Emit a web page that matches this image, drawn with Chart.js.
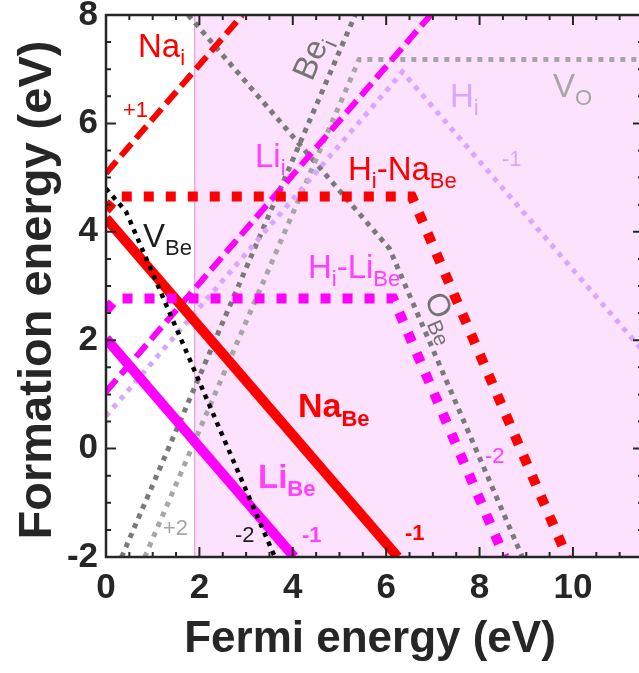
<!DOCTYPE html>
<html>
<head>
<meta charset="utf-8">
<script src="https://cdn.jsdelivr.net/npm/chart.js@4/dist/chart.umd.min.js"></script>
<style>
  html, body { margin: 0; padding: 0; background: #fff; overflow: hidden; }
  #wrap { width: 650px; height: 673px; }
</style>
</head>
<body>
<div id="wrap"><canvas id="c" width="650" height="673"></canvas></div>
<script>
// Axis window (eV)
const xMin = 0, xMax = 11.5, yMin = -2, yMax = 8;
// onset of the shaded region
const gapStart = 1.9;

const xTickLabels = ['0', '2', '4', '6', '8', '10'];
const yTickLabels = ['-2', '0', '2', '4', '6', '8'];

// Formation energy vs Fermi level: breakpoints of each defect line (eV)
const naIX   = [0, 2.92];                 const naIY   = [5.08, 8];
const liIX   = [0, 6.95];                 const liIY   = [1.05, 8];
const hIX    = [0, 6.35, 11.5];           const hIY    = [0.6, 6.95, 1.8];
const vOX    = [0.83, 5.42, 11.5];        const vOY    = [-2, 7.18, 7.18];
const beIX   = [0.335, 5.335];            const beIY   = [-2, 8];
const oBeX   = [1.76, 6.07, 8.915];       const oBeY   = [8, 3.69, -2];
const vBeX   = [0, 0.43, 3.615];          const vBeY   = [4.8, 4.37, -2];
const naBeX  = [0, 6.25];                 const naBeY  = [4.25, -2];
const liBeX  = [0, 4.03];                 const liBeY  = [2.03, -2];
const hNaBeX = [0, 0.25, 6.55, 9.875];    const hNaBeY = [4.4, 4.65, 4.65, -2];
const hLiBeX = [0, 0.22, 6.15, 8.535];    const hLiBeY = [2.55, 2.77, 2.77, -2];

const RED = '#ff0000', MAG = '#ff00ff', LAV = '#d9a6ff',
      GRAY = '#7a7a7a', LGRAY = '#a6a6a6', BLACK = '#000000';

function pts(xs, ys) { return xs.map((v, i) => ({ x: v, y: ys[i] })); }
function series(xs, ys, color, width, dash) {
  return {
    data: pts(xs, ys), showLine: true, borderColor: color, borderWidth: width,
    borderDash: dash || [], borderCapStyle: 'butt', borderJoinStyle: 'miter',
    pointRadius: 0, fill: false, tension: 0, clip: 0
  };
}

// first entry is drawn on top
const datasets = [
  series(vBeX, vBeY, BLACK, 4.5, [4.5, 5.5]),
  series(hNaBeX, hNaBeY, RED, 10, [10, 12]),
  series(hLiBeX, hLiBeY, MAG, 10, [10, 12]),
  series(naBeX, naBeY, RED, 10),
  series(liBeX, liBeY, MAG, 10),
  series(naIX, naIY, RED, 6, [16, 7]),
  series(liIX, liIY, MAG, 6, [16, 7]),
  series(hIX, hIY, LAV, 5, [5, 6]),
  series(vOX, vOY, LGRAY, 5, [5, 6]),
  series(beIX, beIY, GRAY, 5, [5, 5.5]),
  series(oBeX, oBeY, GRAY, 5, [5, 5.5])
];

const FONT = '"Liberation Sans", Arial, Helvetica, sans-serif';

// shaded region to the right of gapStart
const bandPlugin = {
  id: 'band',
  beforeDatasetsDraw(chart) {
    const { ctx, chartArea: a, scales: { x } } = chart;
    const x0 = x.getPixelForValue(gapStart);
    ctx.save();
    ctx.fillStyle = '#fde2fd';
    ctx.fillRect(x0, a.top, a.right - x0, a.bottom - a.top);
    ctx.strokeStyle = '#df8fdf';
    ctx.lineWidth = 1;
    ctx.beginPath();
    ctx.moveTo(x0, a.top); ctx.lineTo(x0, a.bottom);
    ctx.stroke();
    ctx.restore();
  }
};

// text pieces: [text, isSubscript]
const annotations = [
  { x: 0.685, y: 7.225, parts: [['Na', 0], ['i', 1]], color: RED, size: 33 },
  { x: 0.364, y: 6.118, parts: [['+1', 0]], color: RED, size: 22 },
  { x: 4.41,  y: 6.76,  parts: [['Be', 0], ['i', 1]], color: '#747474', rot: -66.7, size: 33 },
  { x: 9.572, y: 6.487, parts: [['V', 0], ['O', 1]], color: LGRAY, size: 33 },
  { x: 7.366, y: 6.303, parts: [['H', 0], ['i', 1]], color: LAV, size: 33 },
  { x: 8.48,  y: 5.207, parts: [['-1', 0]], color: LAV, size: 22 },
  { x: 3.191, y: 5.196, parts: [['Li', 0], ['i', 1]], color: '#ff40ff', size: 33 },
  { x: 5.182, y: 4.956, parts: [['H', 0], ['i', 1], ['-Na', 0], ['Be', 1]], color: RED, size: 33 },
  { x: 0.792, y: 3.72,  parts: [['V', 0], ['Be', 1]], color: '#1e1e1e', size: 33 },
  { x: 4.325, y: 3.148, parts: [['H', 0], ['i', 1], ['-Li', 0], ['Be', 1]], color: '#ff40ff', size: 33 },
  { x: 6.809, y: 2.779, parts: [['O', 0], ['Be', 1]], color: '#747474', rot: 66.7, size: 32 },
  { x: 4.111, y: 0.583, parts: [['Na', 0], ['Be', 1]], color: RED, bold: true, size: 34 },
  { x: 3.255, y: -0.727, parts: [['Li', 0], ['Be', 1]], color: '#ff40ff', bold: true, size: 33 },
  { x: 8.116, y: -0.266, parts: [['-2', 0]], color: '#ff40ff', size: 22 },
  { x: 1.221, y: -1.594, parts: [['+2', 0]], color: LGRAY, size: 22 },
  { x: 2.762, y: -1.723, parts: [['-2', 0]], color: '#1e1e1e', size: 22 },
  { x: 4.197, y: -1.723, parts: [['-1', 0]], color: '#ff40ff', size: 22, bold: true },
  { x: 6.403, y: -1.686, parts: [['-1', 0]], color: RED, size: 22, bold: true }
];

const labelPlugin = {
  id: 'labels',
  afterDatasetsDraw(chart) {
    const { ctx, scales: { x, y } } = chart;
    annotations.forEach(a => {
      const size = a.size || 32;
      const sub = Math.round(size * 0.66);
      const w = a.bold ? 'bold ' : '';
      ctx.save();
      ctx.translate(x.getPixelForValue(a.x), y.getPixelForValue(a.y));
      if (a.rot) ctx.rotate(a.rot * Math.PI / 180);
      ctx.fillStyle = a.color;
      ctx.textBaseline = 'alphabetic';
      ctx.textAlign = 'left';
      let cx = 0;
      a.parts.forEach(([t, s]) => {
        ctx.font = w + (s ? sub : size) + 'px ' + FONT;
        ctx.fillText(t, cx, s ? size * 0.25 : 0);
        cx += ctx.measureText(t).width;
      });
      ctx.restore();
    });
  }
};

// box, inward ticks, tick labels, axis titles
const framePlugin = {
  id: 'frame',
  afterDraw(chart) {
    const { ctx, chartArea: a, scales: { x, y } } = chart;
    ctx.save();
    ctx.strokeStyle = '#262626';
    ctx.lineWidth = 2.5;
    ctx.strokeRect(a.left, a.top, a.right - a.left, a.bottom - a.top);
    ctx.lineWidth = 2;
    ctx.beginPath();
    for (let i = 0; i * 0.5 <= xMax - xMin + 1e-9; i++) {
      const v = xMin + i * 0.5;
      const px = x.getPixelForValue(v);
      const len = (i % 4 === 0) ? 10 : 5;
      ctx.moveTo(px, a.bottom); ctx.lineTo(px, a.bottom - len);
      ctx.moveTo(px, a.top); ctx.lineTo(px, a.top + len);
    }
    for (let i = 0; i * 0.5 <= yMax - yMin + 1e-9; i++) {
      const v = yMin + i * 0.5;
      const py = y.getPixelForValue(v);
      const len = (i % 4 === 0) ? 10 : 5;
      ctx.moveTo(a.left, py); ctx.lineTo(a.left + len, py);
      ctx.moveTo(a.right, py); ctx.lineTo(a.right - len, py);
    }
    ctx.stroke();

    ctx.fillStyle = '#262626';
    ctx.font = 'bold 35px ' + FONT;
    ctx.textAlign = 'center';
    ctx.textBaseline = 'alphabetic';
    xTickLabels.forEach(t => ctx.fillText(t, x.getPixelForValue(parseFloat(t)), 598));
    ctx.textAlign = 'right';
    ctx.textBaseline = 'middle';
    yTickLabels.forEach(t => ctx.fillText(t, 98, y.getPixelForValue(parseFloat(t))));

    ctx.font = 'bold 44px ' + FONT;
    ctx.textAlign = 'center';
    ctx.textBaseline = 'alphabetic';
    ctx.fillText('Fermi energy (eV)', 370, 652);

    ctx.translate(51, 290);
    ctx.rotate(-Math.PI / 2);
    ctx.font = 'bold 47px ' + FONT;
    ctx.fillText('Formation energy (eV)', 0, 0);
    ctx.restore();
  }
};

new Chart(document.getElementById('c').getContext('2d'), {
  type: 'scatter',
  data: { datasets },
  options: {
    responsive: false,
    animation: false,
    events: [],
    layout: { padding: { left: 106, top: 15, right: 7, bottom: 116 } },
    scales: {
      x: { type: 'linear', min: xMin, max: xMax, display: false },
      y: { type: 'linear', min: yMin, max: yMax, display: false }
    },
    plugins: { legend: { display: false }, tooltip: { enabled: false } }
  },
  plugins: [bandPlugin, labelPlugin, framePlugin]
});
</script>
</body>
</html>
